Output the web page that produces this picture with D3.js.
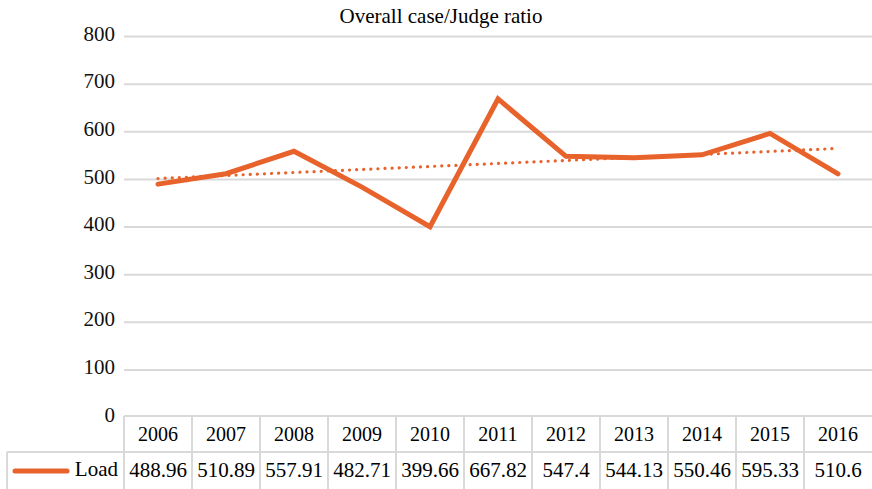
<!DOCTYPE html>
<html>
<head>
<meta charset="utf-8">
<script src="https://cdn.jsdelivr.net/npm/d3@7"></script>
<style>
  body { margin: 0; background: #fff; }
  svg { display: block; font-family: "Liberation Serif", "DejaVu Serif", serif; }
</style>
</head>
<body>
<svg width="872" height="489"></svg>
<script>
var years = ["2006", "2007", "2008", "2009", "2010", "2011", "2012", "2013", "2014", "2015", "2016"];
var load = [488.96, 510.89, 557.91, 482.71, 399.66, 667.82, 547.4, 544.13, 550.46, 595.33, 510.6];
var loadLabels = ["488.96", "510.89", "557.91", "482.71", "399.66", "667.82", "547.4", "544.13", "550.46", "595.33", "510.6"];
var yTicks = [0, 100, 200, 300, 400, 500, 600, 700, 800];

var svg = d3.select("svg"),
    width = +svg.attr("width"),
    height = +svg.attr("height");

var orange = "#e8622b",
    grid = "#d9d9d9";

var plotLeft = 124, plotRight = 872, plotTop = 36, plotBottom = 417;

var x = d3.scaleBand()
    .domain(years)
    .range([plotLeft, plotRight]);

var y = d3.scaleLinear()
    .domain([0, 800])
    .range([plotBottom, plotTop]);

// title
svg.append("text")
    .attr("x", 441)
    .attr("y", 23)
    .attr("text-anchor", "middle")
    .style("font-size", "21px")
    .text("Overall case/Judge ratio");

// gridlines + y labels
var yAxis = svg.append("g")
    .attr("transform", "translate(" + plotLeft + ",0)")
    .call(d3.axisLeft(y).tickValues(yTicks).tickSize(-(plotRight - plotLeft)).tickPadding(9));
yAxis.select(".domain").remove();
yAxis.selectAll(".tick line").attr("stroke", grid).attr("stroke-width", 2);
yAxis.selectAll(".tick text")
    .attr("fill", "#111")
    .attr("dy", "0.2em")
    .style("font-size", "21px")
    .style("font-family", "Liberation Serif, serif");
yAxis.selectAll(".tick").filter(function(d) { return d === 0; }).select("line").remove();

// trend line (least squares)
var n = load.length,
    mx = d3.mean(load, function(d, i) { return i; }),
    my = d3.mean(load),
    slope = d3.sum(load, function(d, i) { return (i - mx) * (d - my); }) /
            d3.sum(load, function(d, i) { return (i - mx) * (i - mx); }),
    intercept = my - slope * mx;

var cx = function(i) { return x(years[i]) + x.bandwidth() / 2; };

svg.append("line")
    .attr("x1", cx(0))
    .attr("x2", cx(n - 1))
    .attr("y1", y(intercept))
    .attr("y2", y(intercept + slope * (n - 1)))
    .attr("stroke", orange)
    .attr("stroke-width", 3.2)
    .attr("stroke-linecap", "round")
    .attr("stroke-dasharray", "0.1 7");

// main line
var line = d3.line()
    .x(function(d, i) { return cx(i); })
    .y(function(d) { return y(d); });

svg.append("path")
    .datum(load)
    .attr("d", line)
    .attr("fill", "none")
    .attr("stroke", orange)
    .attr("stroke-width", 5)
    .attr("stroke-linejoin", "miter")
    .attr("stroke-linecap", "round");

// data table
var rowTop = 416, rowMid = 452, rowBot = 489, tableLeft = 7;
var table = svg.append("g")
    .attr("stroke", grid)
    .attr("stroke-width", 2);

table.append("line").attr("x1", plotLeft).attr("x2", plotRight).attr("y1", rowTop).attr("y2", rowTop);
table.append("line").attr("x1", tableLeft).attr("x2", plotRight).attr("y1", rowMid).attr("y2", rowMid);
table.append("line").attr("x1", tableLeft).attr("x2", tableLeft).attr("y1", rowMid).attr("y2", rowBot);
table.selectAll(".vline")
    .data(years)
    .enter().append("line")
      .attr("class", "vline")
      .attr("x1", function(d) { return x(d); })
      .attr("x2", function(d) { return x(d); })
      .attr("y1", rowTop)
      .attr("y2", rowBot);

svg.selectAll(".year")
    .data(years)
    .enter().append("text")
      .attr("class", "year")
      .attr("x", function(d) { return x(d) + x.bandwidth() / 2; })
      .attr("y", 441)
      .attr("text-anchor", "middle")
      .style("font-size", "20px")
      .text(function(d) { return d; });

svg.selectAll(".val")
    .data(loadLabels)
    .enter().append("text")
      .attr("class", "val")
      .attr("x", function(d, i) { return cx(i); })
      .attr("y", 477)
      .attr("text-anchor", "middle")
      .style("font-size", "21px")
      .text(function(d) { return d; });

// legend key
svg.append("line")
    .attr("x1", 15)
    .attr("x2", 67)
    .attr("y1", 471)
    .attr("y2", 471)
    .attr("stroke", orange)
    .attr("stroke-width", 5)
    .attr("stroke-linecap", "round");

svg.append("text")
    .attr("x", 118)
    .attr("y", 476)
    .attr("text-anchor", "end")
    .style("font-size", "21px")
    .text("Load");
</script>
</body>
</html>
